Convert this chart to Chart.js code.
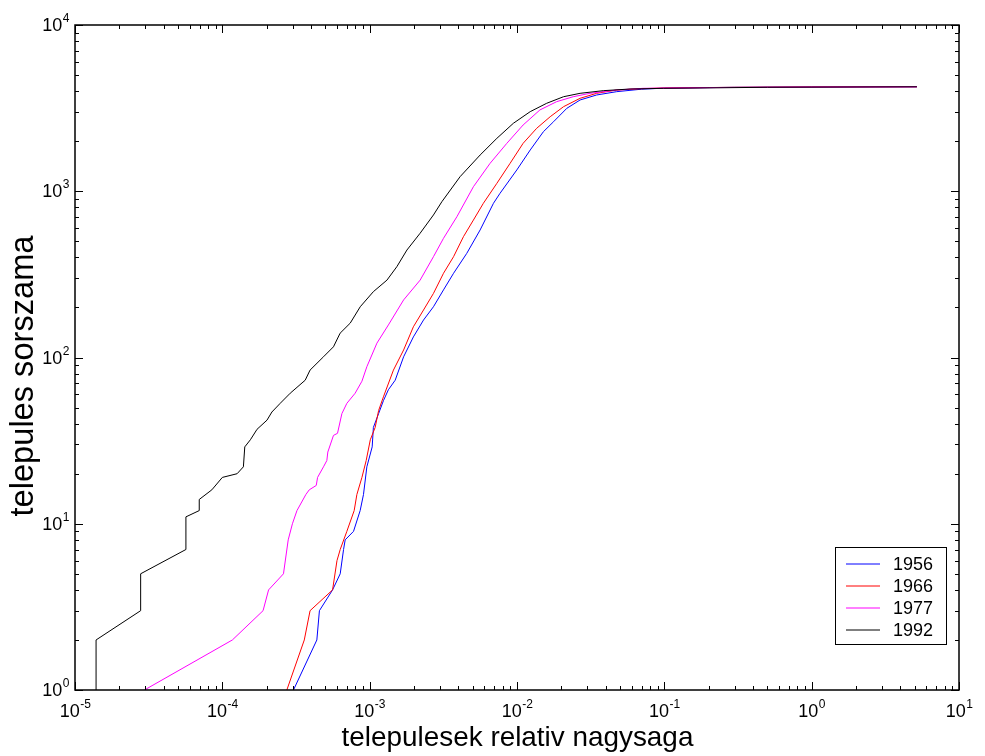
<!DOCTYPE html>
<html>
<head>
<meta charset="utf-8">
<script src="https://cdn.jsdelivr.net/npm/chart.js@4/dist/chart.umd.min.js"></script>
<style>
html,body{margin:0;padding:0;background:#fff;}
#wrap{width:985px;height:756px;}
</style>
</head>
<body>
<div id="wrap"><canvas id="c" width="985" height="756"></canvas></div>
<script>
// ---- data ----
const years = ['1956', '1966', '1977', '1992'];
const colors = ['rgb(0,0,255)', 'rgb(255,0,0)', 'rgb(255,0,255)', 'rgb(0,0,0)'];

const sizes1956 = [3.04e-4,4.38e-4,4.56e-4,5.60e-4,6.31e-4,6.65e-4,6.82e-4,7.77e-4,8.62e-4,9.08e-4,9.57e-4,1.04e-3,1.06e-3,1.15e-3,1.24e-3,1.34e-3,1.49e-3,1.70e-3,1.98e-3,2.32e-3,2.71e-3,3.17e-3,3.71e-3,4.56e-3,5.62e-3,6.92e-3,7.67e-3,9.97e-3,1.23e-2,1.51e-2,1.77e-2,2.18e-2,2.68e-2,3.47e-2,4.75e-2,7.0e-2,0.1,0.3,1,5.18];
const ranks1956 = [1,2,3,4,5,7,8,9,12,15,22,29,38,46,55,64,73,101,133,168,202,255,321,423,585,846,972,1343,1771,2280,2619,3155,3540,3793,3972,4110,4170,4220,4240,4250];

const sizes1966 = [2.74e-4,3.60e-4,3.94e-4,5.60e-4,6.00e-4,6.31e-4,7.00e-4,7.85e-4,8.19e-4,8.86e-4,9.47e-4,1.01e-3,1.09e-3,1.15e-3,1.24e-3,1.45e-3,1.70e-3,1.98e-3,2.32e-3,2.71e-3,3.17e-3,3.71e-3,4.33e-3,5.06e-3,5.91e-3,7.30e-3,8.98e-3,1.10e-2,1.36e-2,1.68e-2,2.07e-2,2.68e-2,3.47e-2,4.75e-2,7.0e-2,0.1,0.3,1,5.18];
const ranks1966 = [1,2,3,4,6,7,9,12,15,19,24,32,38,48,58,84,111,153,193,243,321,404,533,671,846,1116,1473,1942,2391,2808,3227,3623,3882,4063,4140,4180,4220,4240,4250];

const sizes1977 = [2.96e-5,1.17e-4,1.89e-4,2.06e-4,2.60e-4,2.80e-4,2.99e-4,3.21e-4,3.69e-4,3.89e-4,4.34e-4,4.43e-4,4.86e-4,5.12e-4,5.20e-4,5.68e-4,6.05e-4,6.48e-4,7.00e-4,7.97e-4,8.86e-4,9.57e-4,1.12e-3,1.34e-3,1.70e-3,2.20e-3,2.71e-3,3.17e-3,3.91e-3,5.06e-3,6.57e-3,8.53e-3,1.10e-2,1.43e-2,1.86e-2,2.41e-2,3.13e-2,4.75e-2,7.19e-2,0.2,1,5.18];
const ranks1977 = [1,2,3,4,5,8,10,12,15,16,17,19,22,24,27,34,35,46,53,61,72,88,122,157,222,292,404,521,703,1065,1473,1942,2503,3083,3459,3704,3882,4063,4160,4200,4230,4250];

const sizes1992 = [1.39e-5,1.39e-5,2.79e-5,2.79e-5,5.66e-5,5.66e-5,6.97e-5,6.97e-5,8.49e-5,1.0e-4,1.26e-4,1.39e-4,1.42e-4,1.55e-4,1.72e-4,2.01e-4,2.17e-4,2.47e-4,2.89e-4,3.65e-4,3.94e-4,4.86e-4,5.68e-4,6.30e-4,7.38e-4,8.63e-4,1.06e-3,1.31e-3,1.53e-3,1.79e-3,2.20e-3,2.71e-3,3.09e-3,4.11e-3,5.62e-3,7.30e-3,9.45e-3,1.23e-2,1.59e-2,2.07e-2,2.68e-2,3.85e-2,5.85e-2,9.84e-2,0.5,5.18];
const ranks1992 = [1,2,3,5,7,11,12,14,16,19,20,22,29,32,37,42,47,53,61,73,84,101,116,140,161,202,249,292,352,443,559,720,865,1224,1652,2081,2564,3012,3381,3704,3882,4027,4120,4160,4220,4250];

const xTitle = 'telepulesek relativ nagysaga';
const yTitle = 'telepules sorszama';
const xExps = [-5,-4,-3,-2,-1,0,1];
const yExps = [0,1,2,3,4];

// ---- build datasets ----
function pts(xs, ys){ return xs.map((x,i)=>({x:x, y:ys[i]})); }
const allSizes = [sizes1956, sizes1966, sizes1977, sizes1992];
const allRanks = [ranks1956, ranks1966, ranks1977, ranks1992];
const datasets = years.map((y,i)=>({
  label: y,
  data: pts(allSizes[i], allRanks[i]),
  borderColor: colors[i],
  backgroundColor: colors[i],
  borderWidth: 1,
  pointRadius: 0,
  tension: 0,
  fill: false,
  order: 3 - i
}));

const FONT = '"Liberation Sans", Arial, sans-serif';

function drawPow(ctx, exp, x, baseY, align){
  ctx.font = '18px ' + FONT;
  const w1 = ctx.measureText('10').width;
  ctx.font = '12px ' + FONT;
  const es = String(exp);
  const w2 = ctx.measureText(es).width;
  let left;
  if (align === 'center') left = x - (w1 + w2)/2;
  else left = x - (w1 + w2);
  ctx.textAlign = 'left';
  ctx.textBaseline = 'alphabetic';
  ctx.font = '18px ' + FONT;
  ctx.fillText('10', left, baseY);
  ctx.font = '12px ' + FONT;
  ctx.fillText(es, left + w1 + 0.5, baseY - 9);
}

function fitFont(ctx, text, target){
  ctx.font = '20px ' + FONT;
  const w = ctx.measureText(text).width;
  return (20 * target / w).toFixed(2) + 'px ' + FONT;
}

const decor = {
  id: 'decor',
  afterDraw(chart){
    const ctx = chart.ctx;
    const a = chart.chartArea;
    const xs = chart.scales.x, ys = chart.scales.y;
    ctx.save();
    ctx.strokeStyle = '#000';
    ctx.fillStyle = '#000';
    // ticks
    ctx.lineWidth = 1;
    ctx.beginPath();
    xExps.forEach(k=>{
      for (let m=1; m<=9; m++){
        if (k === xExps[xExps.length-1] && m>1) break;
        const px = Math.round(xs.getPixelForValue(m*Math.pow(10,k))) + 0.5;
        const len = m===1 ? 8 : 4;
        ctx.moveTo(px, a.bottom); ctx.lineTo(px, a.bottom - len);
        ctx.moveTo(px, a.top); ctx.lineTo(px, a.top + len);
      }
    });
    yExps.forEach(k=>{
      for (let m=1; m<=9; m++){
        if (k === yExps[yExps.length-1] && m>1) break;
        const py = Math.round(ys.getPixelForValue(m*Math.pow(10,k))) + 0.5;
        const len = m===1 ? 8 : 4;
        ctx.moveTo(a.left, py); ctx.lineTo(a.left + len, py);
        ctx.moveTo(a.right, py); ctx.lineTo(a.right - len, py);
      }
    });
    ctx.stroke();
    // frame
    ctx.lineWidth = 1.5;
    ctx.strokeRect(a.left, a.top, a.right - a.left, a.bottom - a.top);
    // tick labels
    xExps.forEach(k=>{
      const px = xs.getPixelForValue(Math.pow(10,k));
      drawPow(ctx, k, px, a.bottom + 27, 'center');
    });
    yExps.forEach(k=>{
      const py = ys.getPixelForValue(Math.pow(10,k));
      drawPow(ctx, k, a.left - 6, py + 6, 'right');
    });
    // titles
    ctx.textAlign = 'center';
    ctx.textBaseline = 'alphabetic';
    ctx.font = fitFont(ctx, xTitle, 352);
    ctx.fillText(xTitle, 517.5, 746);
    ctx.save();
    ctx.translate(33, 376);
    ctx.rotate(-Math.PI/2);
    ctx.font = fitFont(ctx, yTitle, 281);
    ctx.fillText(yTitle, 0, 0);
    ctx.restore();
    // legend
    ctx.lineWidth = 1;
    ctx.fillStyle = '#fff';
    ctx.fillRect(835.5, 547.5, 111, 97);
    ctx.strokeStyle = '#000';
    ctx.strokeRect(835.5, 547.5, 111, 97);
    ctx.font = '18px ' + FONT;
    ctx.textAlign = 'left';
    ctx.textBaseline = 'middle';
    chart.data.datasets.forEach((d,i)=>{
      const y = Math.round(563.5 + i*22.3);
      ctx.beginPath();
      ctx.strokeStyle = colors[i];
      ctx.lineWidth = 1;
      ctx.moveTo(846, y); ctx.lineTo(880, y);
      ctx.stroke();
      ctx.fillStyle = '#000';
      ctx.fillText(d.label, 893, y + 1);
    });
    ctx.restore();
  }
};

new Chart(document.getElementById('c'), {
  type: 'line',
  data: { datasets: datasets },
  options: {
    responsive: false,
    animation: false,
    layout: { padding: { left: 75, right: 26, top: 25, bottom: 66 } },
    plugins: { legend: { display: false }, tooltip: { enabled: false } },
    scales: {
      x: { type: 'logarithmic', min: 1e-5, max: 10, display: false },
      y: { type: 'logarithmic', min: 1, max: 1e4, display: false }
    }
  },
  plugins: [decor]
});
</script>
</body>
</html>
